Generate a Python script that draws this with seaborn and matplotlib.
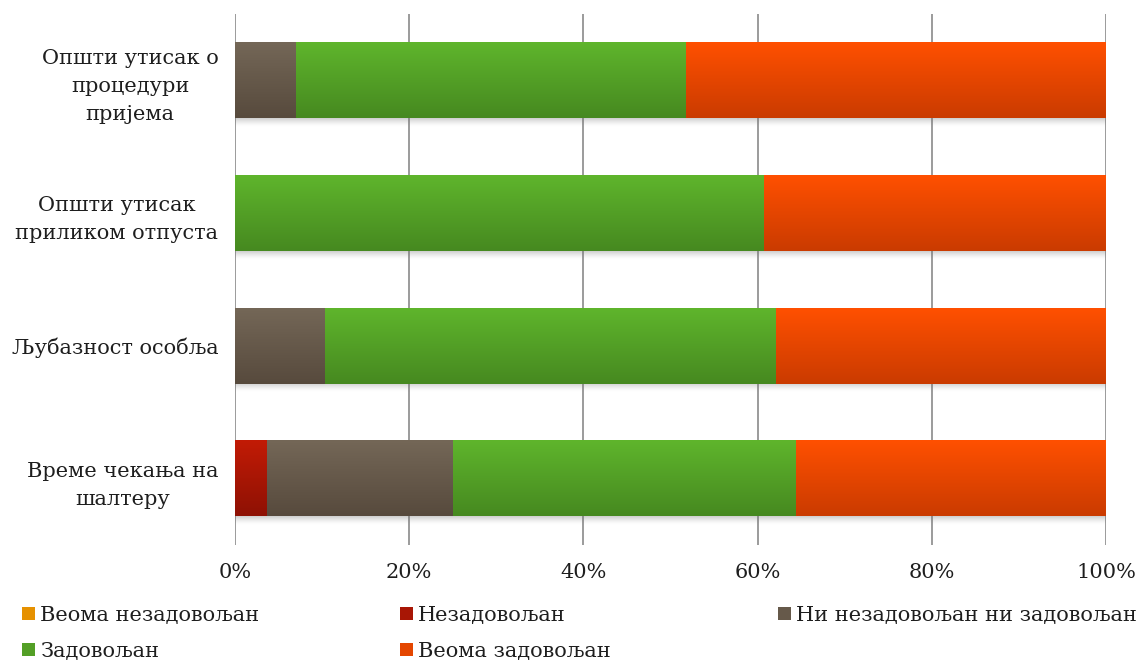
import numpy as np
import pandas as pd
import matplotlib
matplotlib.use("Agg")
import matplotlib.pyplot as plt
import seaborn as sns
from matplotlib.colors import to_rgb
from matplotlib.patches import Patch
from matplotlib.ticker import FuncFormatter

# Survey categories (top to bottom) and answer shares in percent
categories = [
    "Општи утисак о\nпроцедури\nпријема",
    "Општи утисак\nприликом отпуста",
    "Љубазност особља",
    "Време чекања на\nшалтеру",
]
series_names = [
    "Веома незадовољан",
    "Незадовољан",
    "Ни незадовољан ни задовољан",
    "Задовољан",
    "Веома задовољан",
]
very_dissatisfied = [0.0, 0.0, 0.0, 0.0]
dissatisfied = [0.0, 0.0, 0.0, 3.6]
neutral = [6.9, 0.0, 10.3, 21.4]
satisfied = [44.8, 60.7, 51.7, 39.3]
very_satisfied = [48.3, 39.3, 37.9, 35.7]
x_ticks = [0, 20, 40, 60, 80, 100]

# Vertical gradient colours (top, bottom) per answer
top_colors = ["#F7A400", "#C21B06", "#746757", "#5FB52C", "#FF5000"]
bottom_colors = ["#D47E00", "#8E1104", "#574A3D", "#468920", "#CA3B00"]

sns.set_theme(style="white")
plt.rcParams["font.family"] = ["DejaVu Serif"]
FS = 15

fig = plt.figure(figsize=(11.38, 6.62), dpi=100)
ax = fig.add_axes([235 / 1138, 1 - 545 / 662, 871 / 1138, 531 / 662])

series = np.array([very_dissatisfied, dissatisfied, neutral, satisfied, very_satisfied])
cum = np.cumsum(series, axis=0)

mid_colors = [
    tuple((np.array(to_rgb(t)) + np.array(to_rgb(b))) / 2)
    for t, b in zip(top_colors, bottom_colors)
]

# Stacked bars: draw cumulative totals from the longest to the shortest
df = pd.DataFrame({"category": categories})
layers = []
for i in range(len(series) - 1, -1, -1):
    df["total"] = cum[i]
    before = len(ax.patches)
    sns.barplot(data=df, x="total", y="category", orient="y", color=mid_colors[i],
                width=0.57, errorbar=None, ax=ax, zorder=2, linewidth=0)
    layers.append((i, list(ax.patches[before:])))

# Gradient fill over every bar segment, plus a soft shadow under each full bar
n = 0
for i, patches in layers:
    t = np.array(to_rgb(top_colors[i]))
    b = np.array(to_rgb(bottom_colors[i]))
    g = np.linspace(0, 1, 128)[:, None, None]
    img = (1 - g) * t + g * b
    for p in patches:
        x0, y0, w, h = p.get_x(), p.get_y(), p.get_width(), p.get_height()
        if w <= 0:
            continue
        ax.imshow(img, extent=(x0, x0 + w, y0 + h, y0), aspect="auto",
                  interpolation="bilinear", zorder=3 + n * 0.01)
        if i == len(series) - 1:
            s = np.linspace(1, 0, 64)[:, None] ** 1.5
            shadow = np.zeros((64, 1, 4))
            shadow[..., :3] = 0.45
            shadow[..., 3] = 0.35 * s
            ax.imshow(shadow, extent=(x0, x0 + w, y0 + h + 0.065, y0 + h), aspect="auto",
                      interpolation="bilinear", zorder=1.9)
    n += 1

ax.set_xlim(0, 100)
ax.set_ylim(3.5, -0.5)
ax.set_xticks(x_ticks)
ax.xaxis.set_major_formatter(FuncFormatter(lambda v, _: f"{v:.0f}%"))
ax.set(xlabel="", ylabel="")
ax.xaxis.grid(True, color="#8a8a8a", linewidth=1.2)
ax.yaxis.grid(False)
ax.set_axisbelow(True)
for sp in ax.spines.values():
    sp.set_visible(False)
ax.tick_params(axis="x", length=0, pad=13, labelsize=FS, labelcolor="#1e1e1e")
ax.tick_params(axis="y", length=0, pad=12, labelsize=FS, labelcolor="#1e1e1e")
for lbl in ax.get_yticklabels():
    lbl.set_multialignment("center")
    lbl.set_linespacing(1.6)

# Legend laid out in three columns, row-major order
handles = [Patch(facecolor=c, edgecolor="none") for c in mid_colors]
columns = [([0, 3], 22), ([1, 4], 400), ([2], 778)]
for idx, xpx in columns:
    fig.legend([handles[k] for k in idx], [series_names[k] for k in idx],
               loc="upper left", bbox_to_anchor=(xpx / 1138, 1 - 606 / 662),
               frameon=False, fontsize=FS, handlelength=0.6, handleheight=0.6,
               handletextpad=0.28, labelspacing=0.8, borderpad=0, borderaxespad=0,
               labelcolor="#1e1e1e")

fig.savefig("out.png", dpi=100)
